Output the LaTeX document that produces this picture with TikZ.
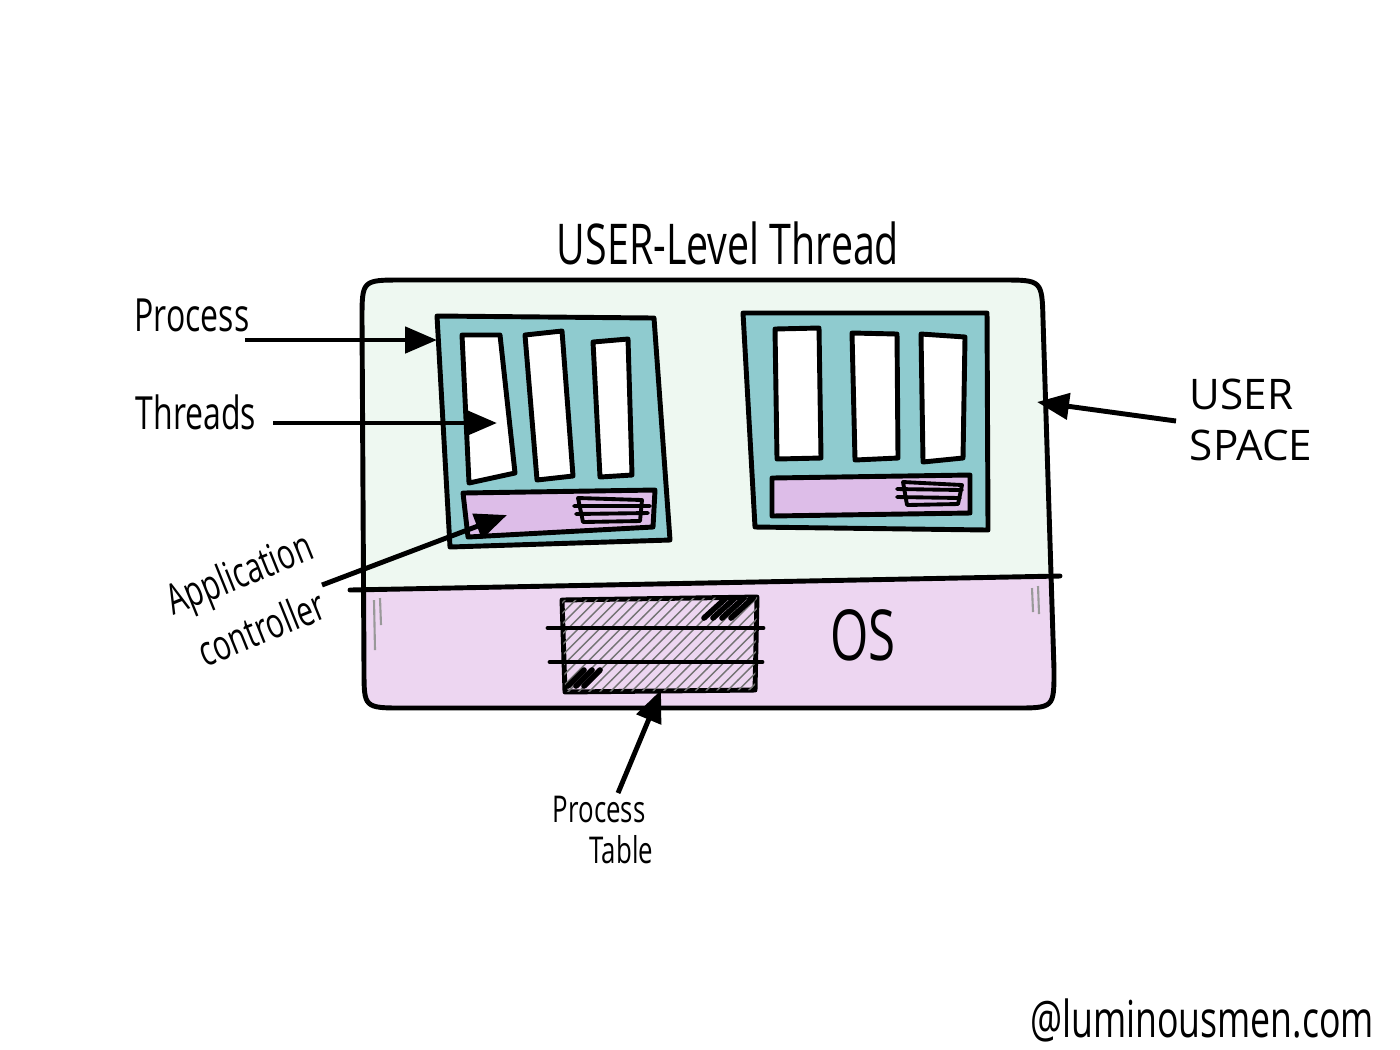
\documentclass[tikz,border=0pt]{standalone}
\usepackage{fontspec}
\newfontfamily\handfont{Open Sans}[FakeStretch=0.7]
\newfontfamily\widehand{Open Sans}
\usetikzlibrary{arrows.meta,patterns}

\definecolor{usermint}{HTML}{EEF8F1}
\definecolor{osviolet}{HTML}{EDD6F1}
\definecolor{procteal}{HTML}{8FCBCF}
\definecolor{ctrlviolet}{HTML}{DDBDE8}

\tikzset{
  ink/.style    ={draw=black, line width=1.4pt, line join=round, line cap=round},
  procbox/.style={ink, fill=procteal},
  thrbox/.style ={ink, fill=white},
  ctrlbox/.style={ink, fill=ctrlviolet},
  stripes/.style={ink, line width=1.1pt},
  scuff/.style  ={draw=black!40, line width=0.6pt},
  lbl/.style    ={font=\handfont\fontsize{13}{15}\selectfont, align=center, inner sep=0pt},
  fl/.style     ={-{Triangle[length=3.2mm,width=2.6mm]}, line width=1.4pt},
}

\begin{document}
\begin{tikzpicture}[x=0.1mm,y=-0.1mm]
  \useasboundingbox (0,0) rectangle (1400,1049);

  % user space and OS halves
  \fill[usermint] (364,589) -- (362,320) .. controls (362,280) .. (402,280) -- (1002,280)
        .. controls (1042,280) .. (1043,320) -- (1050,577) -- cycle;
  \fill[osviolet] (364,589) -- (364,670) .. controls (364,708) .. (404,708) -- (1014,708)
        .. controls (1054,708) .. (1054,670) -- (1050,577) -- cycle;
  \draw[ink] (362,320) .. controls (362,280) .. (402,280) -- (1002,280)
        .. controls (1042,280) .. (1043,320) -- (1054,670) .. controls (1054,708) .. (1014,708)
        -- (404,708) .. controls (364,708) .. (364,670) -- cycle;
  \draw[ink] (350,590) -- (1060,576);
  \draw[scuff] (374,600) -- (375,650) (380,598) -- (381,625)
               (1032,588) -- (1033,612) (1038,586) -- (1039,614);

  % process on the left
  \draw[procbox] (437,316) -- (654,318) -- (670,540) -- (450,547) -- cycle;
  \draw[thrbox]  (462,335) -- (500,335) -- (515,473) -- (469,483) -- cycle;
  \draw[thrbox]  (525,335) -- (562,331) -- (573,476) -- (537,480) -- cycle;
  \draw[thrbox]  (593,342) -- (628,339) -- (632,475) -- (600,477) -- cycle;
  \draw[ctrlbox] (463,493) -- (655,490) -- (653,527) -- (468,537) -- cycle;
  \draw[stripes] (578,498) -- (642,500) -- (640,521) -- (583,522) -- cycle
                 (574,506) -- (650,506) (576,514) -- (648,513);

  % process on the right
  \draw[procbox] (743,313) -- (987,313) -- (988,530) -- (755,527) -- cycle;
  \draw[thrbox]  (775,329) -- (819,328) -- (821,458) -- (777,459) -- cycle;
  \draw[thrbox]  (852,333) -- (897,334) -- (898,458) -- (855,460) -- cycle;
  \draw[thrbox]  (921,334) -- (965,337) -- (963,458) -- (923,462) -- cycle;
  \draw[ctrlbox] (772,478) -- (970,475) -- (970,513) -- (772,516) -- cycle;
  \draw[stripes] (903,482) -- (962,485) -- (958,504) -- (907,505) -- cycle
                 (897,489) -- (962,490) (897,497) -- (960,498);

  % process table
  \draw[ink, fill=osviolet, postaction={pattern=north east lines, pattern color=black!55}]
        (562,600) -- (757,597) -- (755,690) -- (565,692) -- cycle;
  \draw[ink] (548,628) -- (763,628) (550,662) -- (762,662);
  \foreach \dx in {0,9,18,27}
    \draw[ink, line width=1.6pt] (704+\dx,618) -- (726+\dx,598);
  \foreach \dx in {0,8,16}
    \draw[ink, line width=1.6pt] (568+\dx,686) -- (584+\dx,670);

  \node[lbl, font=\handfont\fontsize{20}{22}\selectfont] (os) at (863,635) {OS};
  \node[lbl, font=\handfont\fontsize{16}{18}\selectfont] (title) at (728,243) {USER-Level Thread};

  % labels
  \node[lbl] (lblproc) at (192,315) {Process};
  \node[lbl] (lblthr)  at (196,412) {Threads};
  \node[lbl, font=\handfont\fontsize{12}{17}\selectfont, rotate=22] (lblctrl) at (250,600)
        {Application\\controller};
  \node[lbl, font=\widehand\fontsize{12}{14.5}\selectfont, align=left] (lbluser) at (1251,420)
        {USER\\SPACE};
  \node[lbl, font=\handfont\fontsize{10.5}{11.5}\selectfont, align=left] (lbltab) at (603,830)
        {Process\\\hspace*{1em}Table};
  \node[lbl, font=\handfont\fontsize{14.5}{16}\selectfont] (handle) at (1202,1020)
        {@luminousmen.com};

  \coordinate (proc tail) at (245,340);  \coordinate (proc head) at (437,340);
  \coordinate (thr tail)  at (273,423);  \coordinate (thr head)  at (497,423);
  \coordinate (ctrl tail) at (322,585);  \coordinate (ctrl head) at (507,515);
  \coordinate (user tail) at (1176,421); \coordinate (user head) at (1037,402);
  \coordinate (tab tail)  at (618,793);  \coordinate (tab head)  at (661,690);

  \draw[fl] (proc tail) -- (proc head);
  \draw[fl] (thr tail)  -- (thr head);
  \draw[fl] (ctrl tail) -- (ctrl head);
  \draw[fl] (user tail) -- (user head);
  \draw[fl] (tab tail)  -- (tab head);
\end{tikzpicture}
\end{document}
